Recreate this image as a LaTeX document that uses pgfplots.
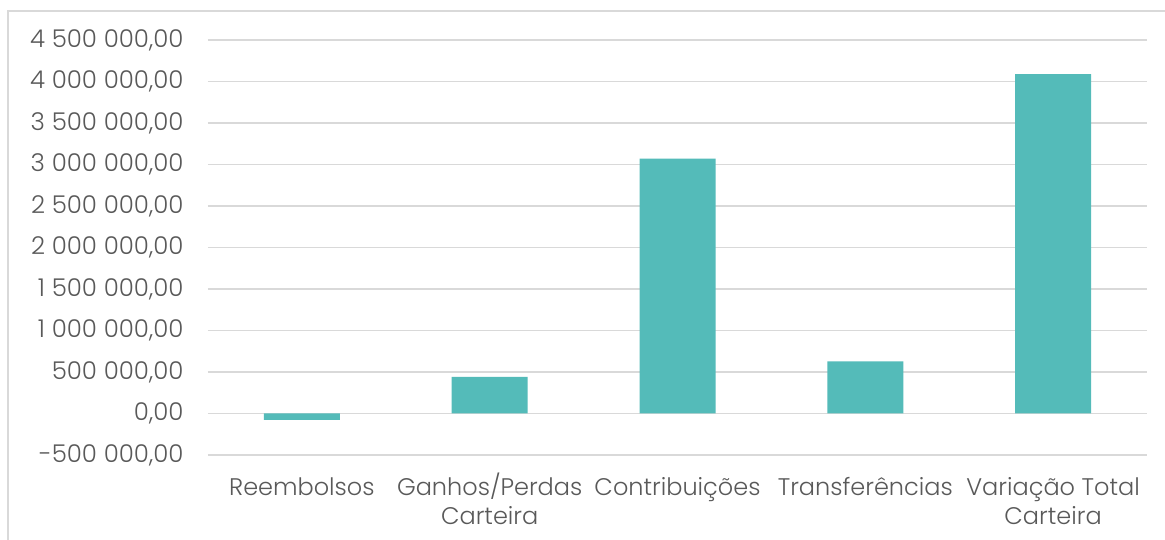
\documentclass[border=0pt]{standalone}
\usepackage{fontspec}
\setmainfont{Poppins}[UprightFont=* Light]
\usepackage{pgfplots}
\pgfplotsset{compat=1.18}
\definecolor{barc}{RGB}{84,187,185}
\definecolor{gridc}{RGB}{217,217,217}
\definecolor{txt}{RGB}{89,89,89}
\newcommand\s{\rule{0pt}{24pt}}
\begin{document}
\begin{tikzpicture}
\useasboundingbox (0,0) rectangle (1165pt,540pt);
\fill[white] (0,0) rectangle (1165pt,540pt);
\draw[gridc, line width=1.2pt] (8pt,0) -- (8pt,529pt) -- (1165pt,529pt);
\begin{axis}[
  at={(208pt,85pt)}, anchor=south west,
  scale only axis, width=939pt, height=415pt,
  xmin=-0.5, xmax=4.5, ymin=-500000, ymax=4500000,
  ytick={-500000,0,500000,1000000,1500000,2000000,2500000,3000000,3500000,4000000,4500000},
  xtick={0,1,2,3,4},
  xticklabels={\s Reembolsos,{\s Ganhos/Perdas\\\strut Carteira},\s Contribuições,\s Transferências,{\s Variação Total\\\strut Carteira}},
  axis line style={draw=none},
  tick style={draw=none},
  ymajorgrids, grid style={gridc, line width=1.5pt},
  scaled y ticks=false,
  /pgf/number format/assume math mode=true,
  yticklabel={\pgfmathprintnumber[fixed,fixed zerofill,precision=2,use comma,1000 sep={\ }]{\tick}},
  yticklabel style={font=\fontsize{24.5}{29}\selectfont, text=txt, anchor=east, xshift=-21pt},
  xticklabel style={font=\fontsize{24}{29}\selectfont, text=txt, align=center, anchor=north, yshift=-12pt, inner sep=0pt},
  ybar, bar width=76pt,
]
\addplot[fill=barc, draw=none] coordinates {(0,-78000) (1,441000) (2,3072000) (3,627000) (4,4088000)};
\end{axis}
\end{tikzpicture}
\end{document}
